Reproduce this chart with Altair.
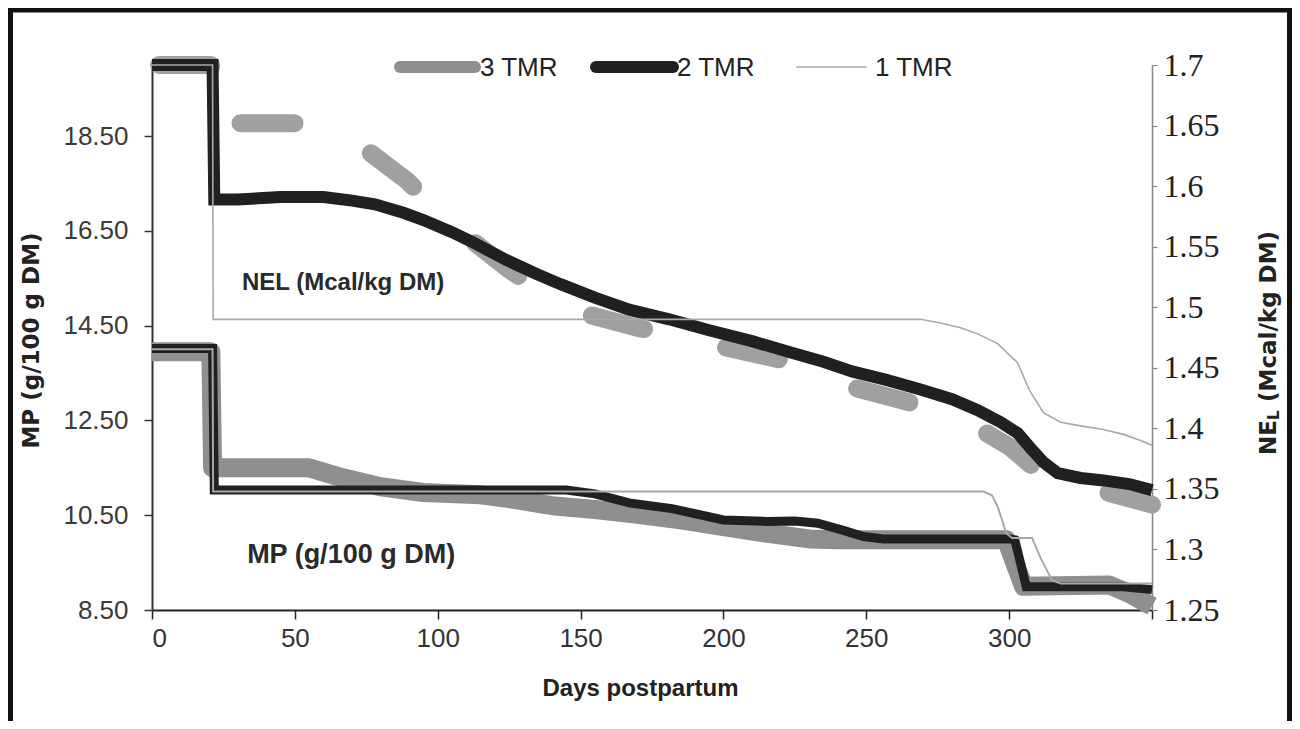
import altair as alt
import pandas as pd

# ---------------- data ----------------
series_names = ["3 TMR", "2 TMR", "1 TMR"]

# MP (g/100 g DM), left axis
mp3_day = [0, 20.6, 21.2, 55, 65, 80, 95, 115, 125, 140, 155, 170, 185, 200, 215, 230, 240, 299, 305, 335, 342, 350]
mp3_val = [13.95, 13.95, 11.50, 11.50, 11.32, 11.10, 10.98, 10.93, 10.85, 10.70, 10.62, 10.52, 10.40, 10.26, 10.12, 10.00, 9.98, 9.98, 9.00, 9.03, 8.85, 8.58]

mp2_day = [0, 21.2, 21.8, 145, 155, 167, 182, 200, 215, 225, 233, 242, 249, 256, 300, 302, 306, 340, 350]
mp2_val = [14.02, 14.02, 11.03, 11.03, 10.95, 10.76, 10.64, 10.40, 10.37, 10.38, 10.33, 10.18, 10.05, 10.00, 10.00, 9.98, 8.99, 8.99, 8.93]

mp1_day = [0, 21.2, 21.4, 291, 294, 296, 299, 301, 308, 311, 315, 318, 350]
mp1_val = [14.00, 14.00, 11.00, 11.00, 10.92, 10.68, 10.12, 10.02, 10.02, 9.60, 9.13, 9.06, 9.06]

# NEL (Mcal/kg DM), right axis
nel3_day = [0, 20.7, 21.3, 55, 65, 75, 89, 100, 112, 125, 138, 151, 170, 183, 195, 223, 235, 245, 269, 280, 290, 300, 311, 322, 333, 350]
nel3_val = [1.700, 1.700, 1.652, 1.652, 1.645, 1.630, 1.605, 1.580, 1.555, 1.531, 1.510, 1.495, 1.483, 1.477, 1.470, 1.455, 1.445, 1.434, 1.419, 1.410, 1.399, 1.385, 1.363, 1.352, 1.348, 1.337]

nel2_day = [0, 21.2, 21.8, 30, 45, 60, 70, 78, 88, 95, 105, 112, 124, 135, 143, 155, 167, 181, 195, 210, 223, 235, 245, 257, 269, 280, 289, 297, 303, 307, 312, 317, 325, 333, 342, 350]
nel2_val = [1.700, 1.700, 1.589, 1.589, 1.591, 1.591, 1.588, 1.585, 1.578, 1.572, 1.562, 1.554, 1.539, 1.527, 1.519, 1.508, 1.498, 1.490, 1.481, 1.472, 1.463, 1.455, 1.447, 1.440, 1.432, 1.424, 1.415, 1.405, 1.396, 1.385, 1.372, 1.363, 1.359, 1.357, 1.354, 1.349]

nel1_day = [0, 21.2, 21.4, 269, 276, 283, 289, 296, 303, 307, 312, 318, 325, 333, 340, 346, 350]
nel1_val = [1.700, 1.700, 1.490, 1.490, 1.487, 1.483, 1.478, 1.470, 1.454, 1.432, 1.413, 1.405, 1.402, 1.399, 1.395, 1.390, 1.386]

x_ticks = [0, 50, 100, 150, 200, 250, 300, 350]
mp_ticks = [8.5, 10.5, 12.5, 14.5, 16.5, 18.5]
nel_ticks = [1.25, 1.3, 1.35, 1.4, 1.45, 1.5, 1.55, 1.6, 1.65, 1.7]

# ---------------- styling ----------------
W, H = 1000, 545
SANS = "Liberation Sans"
WIDE = "DejaVu Sans"
SERIF = "Liberation Serif"
GRAY_MP = "#8f8f8f"
GRAY_NEL = "#a0a0a0"
BLACK = "#202020"
THIN = "#a8a8a8"


def x_enc():
    return alt.X(
        "day:Q",
        scale=alt.Scale(domain=[0, 350], nice=False, zero=False),
        axis=alt.Axis(
            values=x_ticks,
            labelExpr="datum.value >= 350 ? '' : datum.label",
            title="Days postpartum",
            grid=False,
            domainColor="#222222",
            domainWidth=2,
            tickColor="#222222",
            tickWidth=1.5,
            tickSize=9,
            labelFont="Liberation Sans Narrow, Liberation Sans",
            labelFontSize=26,
            labelColor="#333333",
            labelPadding=6,
            titleFont=SANS,
            titleFontSize=24,
            titleFontWeight="bold",
            titleColor="#222222",
            titleX=488,
            titleY=78,
            titleBaseline="middle",
        ),
    )


def y_mp():
    return alt.Y(
        "mp:Q",
        scale=alt.Scale(domain=[8.5, 20], nice=False, zero=False),
        axis=alt.Axis(
            values=mp_ticks,
            format=".2f",
            title="MP (g/100 g DM)",
            grid=False,
            domainColor="#333333",
            domainWidth=2,
            tickColor="#333333",
            tickWidth=1.5,
            tickSize=8,
            labelFont=SANS,
            labelFontSize=26,
            labelColor="#3a3a3a",
            labelPadding=16,
            titleFont=WIDE,
            titleFontSize=23,
            titleFontWeight="bold",
            titleColor="#222222",
            titleX=-121,
            titleY=275,
            titleAngle=270,
            titleBaseline="middle",
            titleAlign="center",
        ),
    )


def y_nel():
    return alt.Y(
        "nel:Q",
        scale=alt.Scale(domain=[1.25, 1.7], nice=False, zero=False),
        axis=alt.Axis(
            orient="right",
            values=nel_ticks,
            format=".2~f",
            title=None,
            grid=False,
            domainColor="#888888",
            domainWidth=1.5,
            tickColor="#888888",
            tickWidth=1.2,
            tickSize=5,
            labelFont=SERIF,
            labelFontSize=32,
            labelColor="#222222",
            labelPadding=6,
        ),
    )


def line(days, vals, field, yenc, **mark):
    df = pd.DataFrame({"day": days, field: vals})
    return alt.Chart(df).mark_line(**mark).encode(x=x_enc(), y=yenc)


mp3 = line(mp3_day, mp3_val, "mp", y_mp(), color=GRAY_MP, strokeWidth=19, strokeJoin="round")
mp2 = line(mp2_day, mp2_val, "mp", y_mp(), color=BLACK, strokeWidth=9)
mp1 = line(mp1_day, mp1_val, "mp", y_mp(), color=THIN, strokeWidth=2)

mp_note = alt.Chart(pd.DataFrame({"day": [69.7], "mp": [9.66], "t": ["MP (g/100 g DM)"]})).mark_text(
    font=SANS, fontSize=27, fontWeight="bold", color="#2a2a2a", align="center", baseline="middle"
).encode(x=x_enc(), y=y_mp(), text="t:N")

nel3 = line(nel3_day, nel3_val, "nel", y_nel(), color=GRAY_NEL, strokeWidth=18,
            strokeCap="round", strokeJoin="round", strokeDash=[54, 84], strokeDashOffset=131)
nel2 = line(nel2_day, nel2_val, "nel", y_nel(), color=BLACK, strokeWidth=12)
nel1 = line(nel1_day, nel1_val, "nel", y_nel(), color=THIN, strokeWidth=1.6)

nel_note = alt.Chart(pd.DataFrame({"day": [66.9], "nel": [1.52], "t": ["NEL (Mcal/kg DM)"]})).mark_text(
    font=SANS, fontSize=24, fontWeight="bold", color="#2a2a2a", align="center", baseline="middle"
).encode(x=x_enc(), y=y_nel(), text="t:N")

mp_group = alt.layer(mp3, mp2, mp1, mp_note)
nel_group = alt.layer(nel3, nel2, nel1, nel_note)

one = pd.DataFrame({"k": [0]})

# outer frame of the figure
frame = alt.Chart(one).mark_rect(filled=False, stroke="#111111", strokeWidth=5).encode(
    x=alt.value(-141.5), x2=alt.value(1137.5), y=alt.value(-55), y2=alt.value(720)
)

# legend (top, inside the plot)
leg_styles = [
    dict(color=GRAY_MP, w=12, x0=248, x1=323, tx=328),
    dict(color=BLACK, w=12, x0=444, x1=521, tx=525),
    dict(color=THIN, w=1.6, x0=645, x1=714, tx=723),
]
legend_layers = []
for name, st in zip(series_names, leg_styles):
    d = pd.DataFrame({"s": [name]})
    legend_layers.append(
        alt.Chart(d).mark_rule(color=st["color"], strokeWidth=st["w"], strokeCap="round").encode(
            x=alt.value(st["x0"]), x2=alt.value(st["x1"]), y=alt.value(2)
        )
    )
    legend_layers.append(
        alt.Chart(d).mark_text(font=SANS, fontSize=26, color="#222222", align="left", baseline="middle").encode(
            x=alt.value(st["tx"]), y=alt.value(3), text="s:N"
        )
    )

# right axis title with subscript L (reads bottom-to-top)
rt_parts = [("NE", 23, 1117, 390), ("L", 15, 1122, 355.0), ("(Mcal/kg DM)", 23, 1117, 337.0)]
rt_layers = []
for txt, fs, xx, yy in rt_parts:
    rt_layers.append(
        alt.Chart(pd.DataFrame({"t": [txt]})).mark_text(
            font=WIDE, fontSize=fs, fontWeight="bold", color="#222222", align="left", baseline="middle", angle=270
        ).encode(x=alt.value(xx), y=alt.value(yy), text="t:N")
    )

chart = (
    alt.layer(frame, mp_group, nel_group, *legend_layers, *rt_layers)
    .resolve_scale(y="independent")
    .properties(
        width=W,
        height=H,
        padding={"left": 144, "top": 57, "right": 140, "bottom": 111},
        autosize=alt.AutoSizeParams(type="none"),
        background="white",
    )
    .configure_view(strokeWidth=0)
)

chart.save("out.html", embed_options={"renderer": "svg", "actions": False})
